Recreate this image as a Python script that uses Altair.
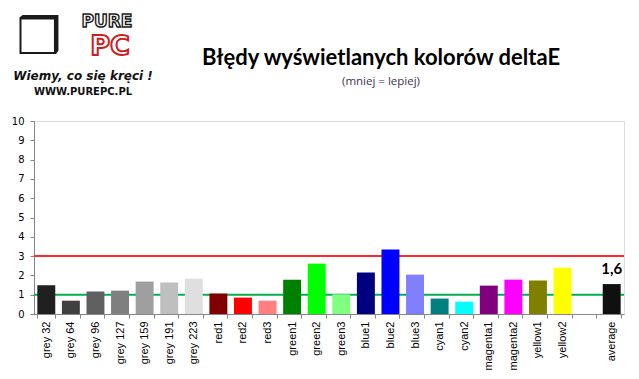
import altair as alt
import pandas as pd

categories = ["grey 32", "grey 64", "grey 96", "grey 127", "grey 159", "grey 191", "grey 223",
              "red1", "red2", "red3", "green1", "green2", "green3", "blue1", "blue2", "blue3",
              "cyan1", "cyan2", "magenta1", "magenta2", "yellow1", "yellow2", " ", "average"]
values = [1.49, 0.69, 1.16, 1.21, 1.68, 1.63, 1.83,
          1.06, 0.85, 0.69, 1.78, 2.61, 1.02, 2.15, 3.34, 2.04,
          0.80, 0.64, 1.47, 1.78, 1.73, 2.40, None, 1.55]
colors = ["#202020", "#404040", "#606060", "#7f7f7f", "#9f9f9f", "#bfbfbf", "#dfdfdf",
          "#800000", "#ff0000", "#ff8080", "#008000", "#00ff00", "#80ff80", "#000080", "#0000ff", "#8080ff",
          "#008080", "#00ffff", "#800080", "#ff00ff", "#808000", "#ffff00", "#ffffff", "#101010"]
value_labels = [""] * 23 + ["1,6"]
y_ticks = [0, 1, 2, 3, 4, 5, 6, 7, 8, 9, 10]
thresholds = [3, 1]
threshold_colors = ["#ff2a2a", "#00b050"]

title_text = "Błędy wyświetlanych kolorów deltaE"
subtitle_text = "(mniej = lepiej)"

df = pd.DataFrame({"cat": categories, "val": values, "lab": value_labels})
bars_df = df[df["val"].notna()]
lab_df = df[df["lab"] != ""]
thr_df = pd.DataFrame({"val": thresholds, "c": threshold_colors})

y_scale = alt.Scale(domain=[0, 10], nice=False)
y_axis = alt.Axis(title=None, values=y_ticks, grid=False, labelPadding=6, labelOverlap=False,
                  labelFont="DejaVu Sans", labelFontSize=10, labelColor="#000000",
                  tickSize=4, domainColor="#868686", tickColor="#868686")

x_enc = alt.X("cat:N", sort=categories,
              scale=alt.Scale(domain=categories, paddingInner=0.27, paddingOuter=0.135),
              axis=alt.Axis(title=None, labelAngle=270, tickBand="extent", labelPadding=3,
                            labelOverlap=False, labelLimit=100,
                            labelFont="Liberation Sans", labelFontSize=11, labelColor="#000000",
                            tickSize=4, domainColor="#868686", tickColor="#868686"))
y_enc = alt.Y("val:Q", scale=y_scale, axis=y_axis)

rules = alt.Chart(thr_df).mark_rule(strokeWidth=2).encode(
    y=alt.Y("val:Q", scale=y_scale, axis=y_axis),
    color=alt.Color("c:N", scale=None),
)

bars = alt.Chart(bars_df).mark_bar().encode(
    x=x_enc, y=y_enc,
    color=alt.Color("cat:N", scale=alt.Scale(domain=categories, range=colors), legend=None),
)

avg_text = alt.Chart(lab_df).mark_text(font="Lato", fontWeight="bold", fontSize=15,
                                        baseline="bottom", dy=-7, color="#000000").encode(
    x=alt.X("cat:N", sort=categories), y=alt.Y("val:Q", scale=y_scale, axis=y_axis), text="lab:N")


def deco(txt, x, y, **kw):
    return alt.Chart(pd.DataFrame({"t": [txt]})).mark_text(**kw).encode(
        x=alt.value(x), y=alt.value(y), text="t:N")


title = deco(title_text, 347, -63, font="Lato", fontWeight="bold", fontSize=22, color="#000000")
subtitle = deco(subtitle_text, 347, -39, font="Open Sans", fontSize=11.5, color="#3f3151")
logo_box = deco("❒", 5, -82, font="DejaVu Sans", fontSize=50, color="#1a1a1a")
logo_pure = deco("PURE", 73, -99, font="DejaVu Sans", fontWeight="bold", fontSize=17,
                 fill="#ffffff", stroke="#1a1a1a", strokeWidth=1.4)
logo_pc = deco("PC", 76, -74, font="DejaVu Sans", fontWeight="bold", fontSize=27,
               fill="#ffffff", stroke="#cc1f1f", strokeWidth=2)
logo_slogan = deco("Wiemy, co się kręci !", 49, -45, font="DejaVu Sans", fontStyle="italic",
                   fontWeight="bold", fontSize=12, color="#111111")
logo_www = deco("WWW.PUREPC.PL", 49, -29, font="DejaVu Sans", fontWeight="bold", fontSize=10,
                color="#111111")

chart = alt.layer(rules, bars, avg_text, title, subtitle, logo_box, logo_pure, logo_pc,
                  logo_slogan, logo_www).properties(
    width=590, height=193,
    autosize=alt.AutoSizeParams(type="none"),
    padding={"left": 26, "top": 113, "right": 7, "bottom": 56},
).configure_view(stroke=None).configure(background="#ffffff")

chart.save("out.html", embed_options={"renderer": "svg", "actions": False})
